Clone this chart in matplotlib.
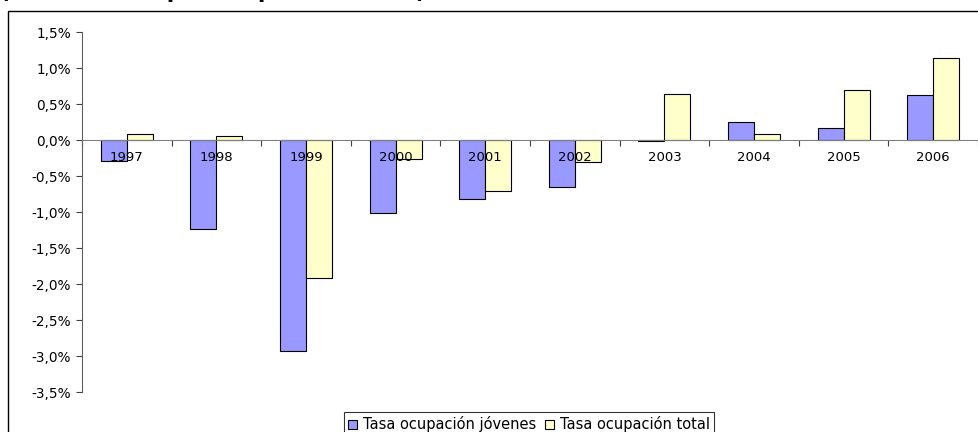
import matplotlib
matplotlib.use("Agg")
import matplotlib.pyplot as plt
from matplotlib.patches import Rectangle
import numpy as np

plt.rcParams['font.family'] = ['DejaVu Sans']

years = ['1997', '1998', '1999', '2000', '2001', '2002', '2003', '2004', '2005', '2006']
jovenes = [-0.29, -1.24, -2.93, -1.01, -0.82, -0.65, -0.02, 0.25, 0.16, 0.62]
total = [0.09, 0.05, -1.91, -0.26, -0.71, -0.30, 0.64, 0.09, 0.69, 1.14]
yticks = [1.5, 1.0, 0.5, 0.0, -0.5, -1.0, -1.5, -2.0, -2.5, -3.0, -3.5]
ytick_labels = ['1,5%', '1,0%', '0,5%', '0,0%', '-0,5%', '-1,0%', '-1,5%',
                '-2,0%', '-2,5%', '-3,0%', '-3,5%']
title = '(Variación en puntos porcentuales)'

fig = plt.figure(figsize=(9.79, 4.32), dpi=100)
ax = fig.add_axes([82/979, 1 - 392/432, 896/979, 360/432])

x = np.arange(len(years))
w = 0.29
ax.bar(x - w/2, jovenes, w, color='#9999FF', edgecolor='black', linewidth=0.8,
       label='Tasa ocupación jóvenes')
ax.bar(x + w/2, total, w, color='#FFFFCC', edgecolor='black', linewidth=0.8,
       label='Tasa ocupación total')

ax.set_xlim(-0.5, len(years) - 0.5)
ax.set_ylim(-3.5, 1.5)
ax.set_yticks(yticks)
ax.set_yticklabels(ytick_labels)

ax.spines['top'].set_visible(False)
ax.spines['right'].set_visible(False)
ax.spines['bottom'].set_position(('data', 0))
ax.spines['bottom'].set_color('#808080')
ax.spines['left'].set_color('#606060')

ax.set_xticks(np.arange(len(years) + 1) - 0.5)
ax.set_xticklabels([])
ax.set_xticks(x, minor=True)
ax.set_xticklabels(years, minor=True)
ax.tick_params(axis='x', which='major', length=4, width=0.8, color='#404040')
ax.tick_params(axis='x', which='minor', length=0, pad=8, labelsize=9.5)
ax.tick_params(axis='y', length=4, width=0.8, color='#404040', labelsize=9.8, pad=4)

leg = fig.legend(loc='upper center', bbox_to_anchor=(529/979, 1 - 412/432), ncol=2,
                 fontsize=10.5, frameon=True, fancybox=False, edgecolor='black',
                 handlelength=0.6, handleheight=0.6, handletextpad=0.4,
                 columnspacing=0.6, borderpad=0.3, borderaxespad=0)
leg.get_frame().set_linewidth(0.8)

# outer chart frame (cropped at right and bottom)
fig.patches.append(Rectangle((8/979, -0.1), 1.2, 1 - 11/432 + 0.1,
                             transform=fig.transFigure, fill=False,
                             edgecolor='black', linewidth=1.0))

fig.text(0, 1 + 2/432, title, fontsize=15.5, fontweight='bold', va='baseline', ha='left')

fig.savefig('out.png', dpi=100)
